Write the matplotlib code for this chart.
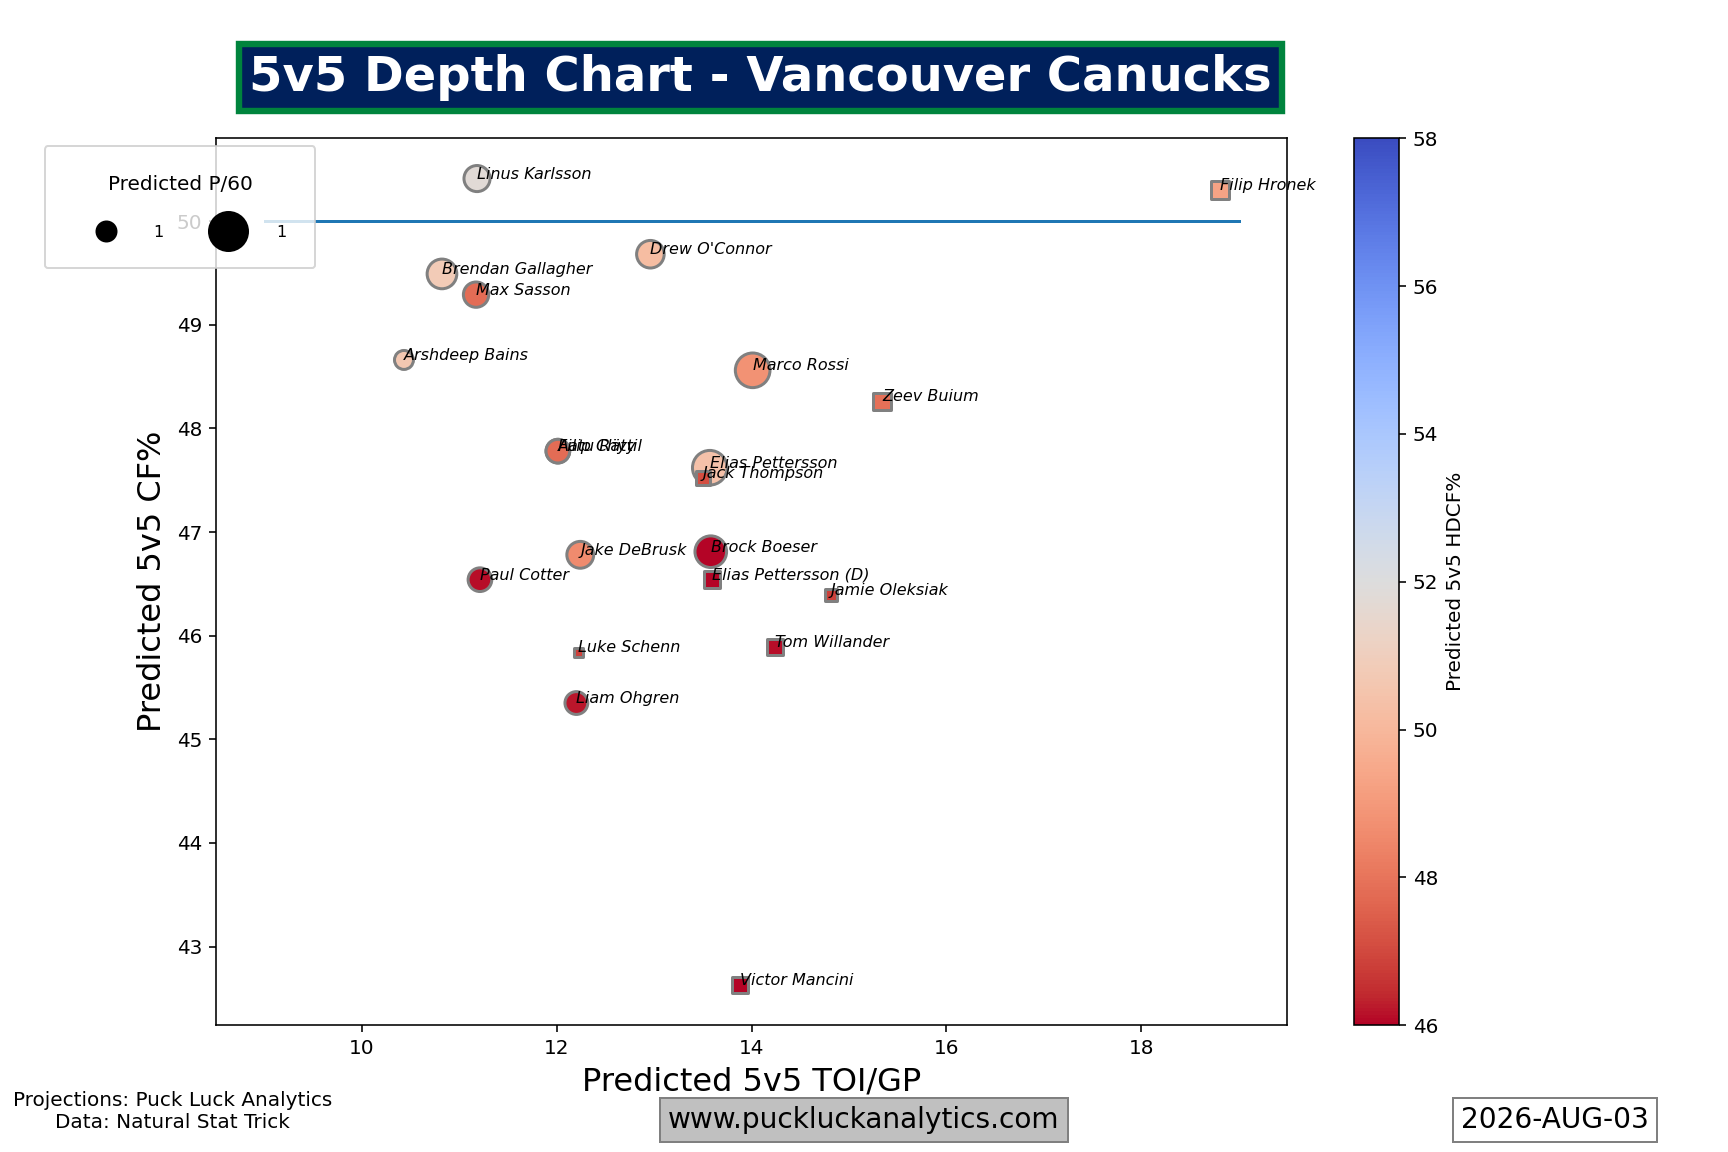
import matplotlib
matplotlib.use('Agg')
import matplotlib.pyplot as plt
from matplotlib.lines import Line2D

# 数据
players = ['Linus Karlsson', 'Filip Hronek', "Drew O'Connor", 'Brendan Gallagher', 'Max Sasson',
           'Arshdeep Bains', 'Marco Rossi', 'Zeev Buium', 'Aatu Räty', 'Filip Chytil',
           'Elias Pettersson', 'Jack Thompson', 'Jake DeBrusk', 'Brock Boeser', 'Paul Cotter',
           'Elias Pettersson (D)', 'Jamie Oleksiak', 'Tom Willander', 'Luke Schenn', 'Liam Ohgren',
           'Victor Mancini']
positions = ['F', 'D', 'F', 'F', 'F',
             'F', 'F', 'D', 'F', 'F',
             'F', 'D', 'F', 'F', 'F',
             'D', 'D', 'D', 'D', 'F',
             'D']
toi = [11.18, 18.81, 12.96, 10.82, 11.17,
       10.43, 14.01, 15.34, 12.01, 12.01,
       13.57, 13.50, 12.24, 13.58, 11.21,
       13.59, 14.81, 14.24, 12.22, 12.20,
       13.88]
cf = [50.41, 50.30, 49.68, 49.49, 49.29,
      48.66, 48.56, 48.26, 47.78, 47.78,
      47.62, 47.52, 46.78, 46.81, 46.54,
      46.54, 46.39, 45.89, 45.84, 45.35,
      42.63]
hdcf = [51.8, 49.3, 50.2, 50.8, 47.8,
        50.6, 48.8, 47.9, 47.8, 47.8,
        50.4, 47.1, 48.6, 46.0, 46.1,
        46.0, 46.8, 46.1, 46.8, 46.2,
        45.9]
p60 = [0.85, 0.38, 0.95, 1.1, 0.8,
       0.45, 1.5, 0.38, 0.7, 0.7,
       1.5, 0.22, 0.9, 1.25, 0.7,
       0.34, 0.18, 0.34, 0.1, 0.65,
       0.3]

fig, ax = plt.subplots(figsize=(12, 8))

# 50% 参考线
ax.plot([9, 19], [50, 50])

# 前锋画圆，后卫画方块
sc = None
for pos, marker in [('F', 'o'), ('D', 's')]:
    idx = [i for i, p in enumerate(positions) if p == pos]
    sc = ax.scatter([toi[i] for i in idx], [cf[i] for i in idx],
                    s=[p60[i] * 200 for i in idx], c=[hdcf[i] for i in idx],
                    cmap='coolwarm_r', vmin=46, vmax=58, marker=marker,
                    edgecolors='grey', linewidths=1.5)

for name, x, y in zip(players, toi, cf):
    ax.text(x, y, name, fontsize=8, style='italic')

cbar = fig.colorbar(sc, ax=ax)
cbar.set_label('Predicted 5v5 HDCF%')

ax.set_xlabel('Predicted 5v5 TOI/GP', fontsize=16)
ax.set_ylabel('Predicted 5v5 CF%', fontsize=16)

# 图例（P/60 大小）
handles = [Line2D([], [], marker='o', linestyle='', color='black', markersize=10),
           Line2D([], [], marker='o', linestyle='', color='black', markersize=19.5)]
fig.legend(handles, ['1', '1'], title='Predicted P/60', loc='upper left',
           bbox_to_anchor=(0.026, 0.873), borderaxespad=0, ncol=2, fontsize=8,
           title_fontsize=10, borderpad=1.8, handlelength=4, handletextpad=1.0,
           columnspacing=2, labelspacing=1.9)

# 标题
fig.text(0.44, 0.933, '5v5 Depth Chart - Vancouver Canucks', fontsize=24, fontweight='bold',
         color='white', ha='center', va='center',
         bbox=dict(facecolor='#00205B', edgecolor='#00843D', linewidth=3.2, pad=5))

# 底部信息
fig.text(0.1, 0.035, 'Projections: Puck Luck Analytics\nData: Natural Stat Trick',
         ha='center', va='center', fontsize=10)
fig.text(0.5, 0.028, 'www.puckluckanalytics.com', ha='center', va='center', fontsize=14,
         bbox=dict(facecolor='silver', edgecolor='grey'))
fig.text(0.9, 0.028, '2026-AUG-03', ha='center', va='center', fontsize=14,
         bbox=dict(facecolor='white', edgecolor='grey'))

plt.savefig('out.png', dpi=144)
